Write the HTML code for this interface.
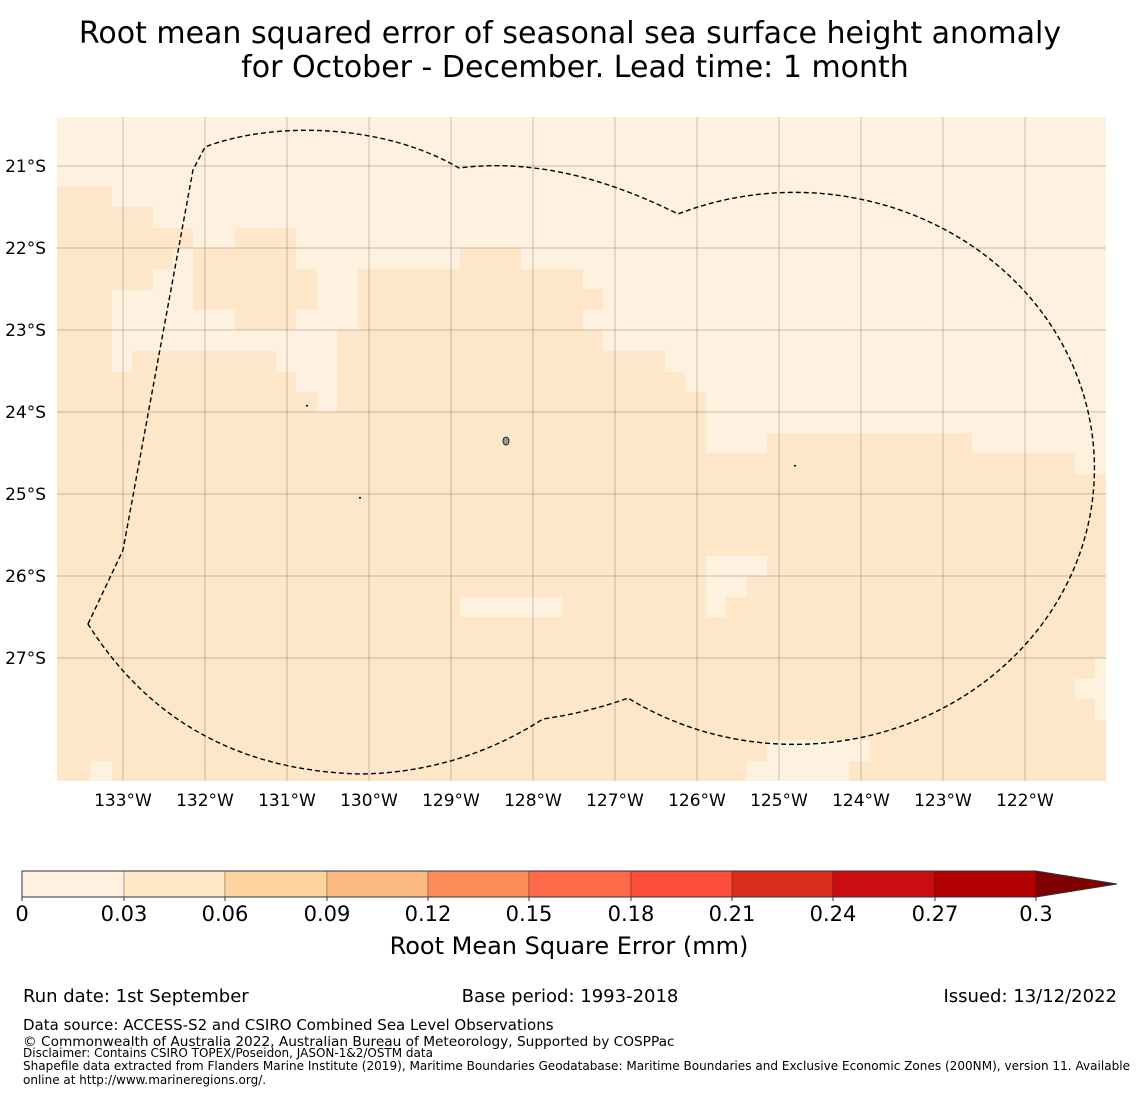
<!DOCTYPE html>
<html><head><meta charset="utf-8"><style>
html,body{margin:0;padding:0;background:#fff;}
svg{display:block;font-family:"DejaVu Sans","Liberation Sans",sans-serif;}
</style></head><body>
<svg width="1140" height="1095" viewBox="0 0 1140 1095" xmlns="http://www.w3.org/2000/svg">
<text x="570" y="43" font-size="30" text-anchor="middle">Root mean squared error of seasonal sea surface height anomaly</text>
<text x="575" y="77" font-size="30" text-anchor="middle">for October - December. Lead time: 1 month</text>

<g>
<rect x="57" y="117" width="1049" height="664" fill="#fff1df"/>
<g fill="#fee7c9">
<rect x="57" y="187" width="55" height="594"/>
<rect x="112" y="207" width="41" height="83"/>
<rect x="112" y="372" width="20" height="409"/>
<rect x="132" y="351" width="144" height="430"/>
<rect x="153" y="228" width="20" height="41"/>
<rect x="173" y="228" width="20" height="20"/>
<rect x="193" y="248" width="42" height="62"/>
<rect x="235" y="228" width="61" height="102"/>
<rect x="296" y="269" width="21" height="41"/>
<rect x="276" y="372" width="20" height="409"/>
<rect x="296" y="392" width="21" height="389"/>
<rect x="317" y="412" width="20" height="369"/>
<rect x="337" y="330" width="21" height="451"/>
<rect x="358" y="269" width="102" height="512"/>
<rect x="460" y="248" width="61" height="533"/>
<rect x="521" y="269" width="62" height="512"/>
<rect x="583" y="289" width="20" height="21"/>
<rect x="583" y="330" width="20" height="451"/>
<rect x="603" y="351" width="62" height="430"/>
<rect x="665" y="372" width="20" height="409"/>
<rect x="685" y="392" width="21" height="389"/>
<rect x="706" y="453" width="61" height="328"/>
<rect x="767" y="433" width="205" height="348"/>
<rect x="972" y="453" width="103" height="328"/>
<rect x="1075" y="474" width="31" height="307"/>
</g>
<g fill="#fff1df">
<rect x="706" y="556" width="61" height="20"/>
<rect x="706" y="576" width="41" height="21"/>
<rect x="706" y="597" width="20" height="20"/>
<rect x="460" y="597" width="102" height="20"/>
<rect x="1095" y="658" width="11" height="21"/>
<rect x="1075" y="679" width="31" height="20"/>
<rect x="1095" y="699" width="11" height="21"/>
<rect x="91" y="761" width="21" height="20"/>
<rect x="767" y="740" width="103" height="21"/>
<rect x="747" y="761" width="102" height="20"/>
</g>
<g stroke="#000" stroke-opacity="0.3" stroke-width="0.7">
<line x1="123" y1="117" x2="123" y2="781"/><line x1="205" y1="117" x2="205" y2="781"/>
<line x1="287" y1="117" x2="287" y2="781"/><line x1="369" y1="117" x2="369" y2="781"/>
<line x1="451" y1="117" x2="451" y2="781"/><line x1="533" y1="117" x2="533" y2="781"/>
<line x1="615" y1="117" x2="615" y2="781"/><line x1="697" y1="117" x2="697" y2="781"/>
<line x1="779" y1="117" x2="779" y2="781"/><line x1="861" y1="117" x2="861" y2="781"/>
<line x1="943" y1="117" x2="943" y2="781"/><line x1="1025" y1="117" x2="1025" y2="781"/>
<line x1="57" y1="166" x2="1106" y2="166"/><line x1="57" y1="248" x2="1106" y2="248"/>
<line x1="57" y1="330" x2="1106" y2="330"/><line x1="57" y1="412" x2="1106" y2="412"/>
<line x1="57" y1="494" x2="1106" y2="494"/><line x1="57" y1="576" x2="1106" y2="576"/>
<line x1="57" y1="658" x2="1106" y2="658"/>
</g>
<path d="M88,624 L123,550 L193,170 L205,147 C270,122 380,122 459,168 Q560,155 678,214 A300,276 0 1 1 628,698 Q590,712 543,719 Q460,772 362,774 Q180,770 88,624 Z" fill="none" stroke="#000" stroke-width="1.4" stroke-dasharray="5,3"/>
<ellipse cx="506" cy="441" rx="3" ry="4" fill="#999" stroke="#000" stroke-width="0.8"/>
<rect x="306" y="405" width="2" height="1.5" fill="#000"/>
<rect x="359" y="497" width="2" height="1.5" fill="#000"/>
<rect x="794" y="465" width="2" height="1.5" fill="#000"/>
</g>

<g font-size="17" text-anchor="end">
<text x="46" y="172">21°S</text><text x="46" y="254">22°S</text><text x="46" y="336">23°S</text>
<text x="46" y="418">24°S</text><text x="46" y="500">25°S</text><text x="46" y="582">26°S</text>
<text x="46" y="664">27°S</text>
</g>
<g font-size="17" text-anchor="middle">
<text x="123" y="806">133°W</text><text x="205" y="806">132°W</text><text x="287" y="806">131°W</text>
<text x="369" y="806">130°W</text><text x="451" y="806">129°W</text><text x="533" y="806">128°W</text>
<text x="615" y="806">127°W</text><text x="697" y="806">126°W</text><text x="779" y="806">125°W</text>
<text x="861" y="806">124°W</text><text x="943" y="806">123°W</text><text x="1025" y="806">122°W</text>
</g>

<g stroke="#000" stroke-opacity="0.25" stroke-width="1">
<rect x="22" y="871" width="102" height="26" fill="#fff2e0"/>
<rect x="124" y="871" width="101" height="26" fill="#fee8c8"/>
<rect x="225" y="871" width="102" height="26" fill="#fdd49e"/>
<rect x="327" y="871" width="101" height="26" fill="#fdbb84"/>
<rect x="428" y="871" width="101" height="26" fill="#fc8d59"/>
<rect x="529" y="871" width="102" height="26" fill="#fe6a4a"/>
<rect x="631" y="871" width="101" height="26" fill="#fe4f3c"/>
<rect x="732" y="871" width="101" height="26" fill="#d92e1e"/>
<rect x="833" y="871" width="102" height="26" fill="#cb0c10"/>
<rect x="935" y="871" width="101" height="26" fill="#b30000"/>
</g>
<polygon points="1036,871 1117,884 1036,897" fill="#7f0000"/>
<path d="M22,871 L1036,871 L1117,884 L1036,897 L22,897 Z" fill="none" stroke="#333" stroke-width="1"/>
<g stroke="#333" stroke-width="1">
<line x1="22" y1="897" x2="22" y2="901"/><line x1="124" y1="897" x2="124" y2="901"/><line x1="225" y1="897" x2="225" y2="901"/>
<line x1="327" y1="897" x2="327" y2="901"/><line x1="428" y1="897" x2="428" y2="901"/><line x1="529" y1="897" x2="529" y2="901"/>
<line x1="631" y1="897" x2="631" y2="901"/><line x1="732" y1="897" x2="732" y2="901"/><line x1="833" y1="897" x2="833" y2="901"/>
<line x1="935" y1="897" x2="935" y2="901"/><line x1="1036" y1="897" x2="1036" y2="901"/>
</g>
<g font-size="21" text-anchor="middle">
<text x="22" y="921">0</text><text x="124" y="921">0.03</text><text x="225" y="921">0.06</text>
<text x="327" y="921">0.09</text><text x="428" y="921">0.12</text><text x="529" y="921">0.15</text>
<text x="631" y="921">0.18</text><text x="732" y="921">0.21</text><text x="833" y="921">0.24</text>
<text x="935" y="921">0.27</text><text x="1036" y="921">0.3</text>
</g>
<text x="569" y="954" font-size="24" text-anchor="middle">Root Mean Square Error (mm)</text>

<text x="23" y="1002" font-size="18">Run date: 1st September</text>
<text x="570" y="1002" font-size="18" text-anchor="middle">Base period: 1993-2018</text>
<text x="1117" y="1002" font-size="18" text-anchor="end">Issued: 13/12/2022</text>
<text x="23" y="1030" font-size="15">Data source: ACCESS-S2 and CSIRO Combined Sea Level Observations</text>
<text x="23" y="1046" font-size="13.7">© Commonwealth of Australia 2022, Australian Bureau of Meteorology, Supported by COSPPac</text>
<text x="23" y="1057" font-size="12">Disclaimer: Contains CSIRO TOPEX/Poseidon, JASON-1&amp;2/OSTM data</text>
<text x="23" y="1070" font-size="12" textLength="1107" lengthAdjust="spacingAndGlyphs">Shapefile data extracted from Flanders Marine Institute (2019), Maritime Boundaries Geodatabase: Maritime Boundaries and Exclusive Economic Zones (200NM), version 11. Available</text>
<text x="23" y="1084" font-size="12">online at http://www.marineregions.org/.</text>
</svg>
</body></html>
